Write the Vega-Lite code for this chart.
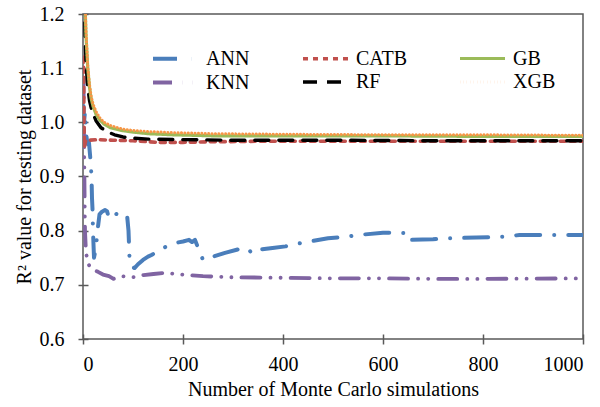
{
  "$schema": "https://vega.github.io/schema/vega-lite/v6.json",
  "autosize": "none",
  "width": 500,
  "height": 325,
  "padding": {"left": 83, "top": 14, "right": 17, "bottom": 68},
  "background": "white",
  "config": {
    "font": "Liberation Serif",
    "view": {"stroke": "#595959", "strokeWidth": 1.5},
    "axis": {
      "labelFont": "Liberation Serif",
      "titleFont": "Liberation Serif",
      "labelFontSize": 20,
      "titleFontSize": 20,
      "labelColor": "black",
      "titleColor": "black",
      "titleFontWeight": "normal",
      "domain": false,
      "tickColor": "#595959",
      "tickWidth": 1.5,
      "tickSize": 10,
      "offset": -5,
      "grid": false
    }
  },
  "data": {
    "values": [
      {"model": "ANN", "n": 1, "r2": 1.03},
      {"model": "ANN", "n": 2, "r2": 1.0},
      {"model": "ANN", "n": 4, "r2": 1.02},
      {"model": "ANN", "n": 6, "r2": 0.98},
      {"model": "ANN", "n": 9, "r2": 0.96},
      {"model": "ANN", "n": 12, "r2": 0.962},
      {"model": "ANN", "n": 15, "r2": 0.93},
      {"model": "ANN", "n": 17, "r2": 0.9},
      {"model": "ANN", "n": 18, "r2": 0.86},
      {"model": "ANN", "n": 19, "r2": 0.84},
      {"model": "ANN", "n": 20, "r2": 0.8},
      {"model": "ANN", "n": 22, "r2": 0.75},
      {"model": "ANN", "n": 26, "r2": 0.77},
      {"model": "ANN", "n": 29, "r2": 0.8},
      {"model": "ANN", "n": 33, "r2": 0.83},
      {"model": "ANN", "n": 38, "r2": 0.835},
      {"model": "ANN", "n": 44, "r2": 0.838},
      {"model": "ANN", "n": 48, "r2": 0.836},
      {"model": "ANN", "n": 52, "r2": 0.823},
      {"model": "ANN", "n": 56, "r2": 0.826},
      {"model": "ANN", "n": 62, "r2": 0.832},
      {"model": "ANN", "n": 70, "r2": 0.83},
      {"model": "ANN", "n": 80, "r2": 0.829},
      {"model": "ANN", "n": 88, "r2": 0.83},
      {"model": "ANN", "n": 91, "r2": 0.8},
      {"model": "ANN", "n": 93, "r2": 0.75},
      {"model": "ANN", "n": 97, "r2": 0.733},
      {"model": "ANN", "n": 103, "r2": 0.731},
      {"model": "ANN", "n": 110, "r2": 0.738},
      {"model": "ANN", "n": 120, "r2": 0.746},
      {"model": "ANN", "n": 130, "r2": 0.752},
      {"model": "ANN", "n": 137, "r2": 0.755},
      {"model": "ANN", "n": 160, "r2": 0.768},
      {"model": "ANN", "n": 183, "r2": 0.777},
      {"model": "ANN", "n": 200, "r2": 0.78},
      {"model": "ANN", "n": 212, "r2": 0.783},
      {"model": "ANN", "n": 218, "r2": 0.779},
      {"model": "ANN", "n": 224, "r2": 0.783},
      {"model": "ANN", "n": 232, "r2": 0.764},
      {"model": "ANN", "n": 240, "r2": 0.746},
      {"model": "ANN", "n": 260, "r2": 0.752},
      {"model": "ANN", "n": 284, "r2": 0.759},
      {"model": "ANN", "n": 312, "r2": 0.766},
      {"model": "ANN", "n": 332, "r2": 0.766},
      {"model": "ANN", "n": 336, "r2": 0.759},
      {"model": "ANN", "n": 342, "r2": 0.764},
      {"model": "ANN", "n": 379, "r2": 0.768},
      {"model": "ANN", "n": 405, "r2": 0.771},
      {"model": "ANN", "n": 435, "r2": 0.777},
      {"model": "ANN", "n": 490, "r2": 0.786},
      {"model": "ANN", "n": 520, "r2": 0.788},
      {"model": "ANN", "n": 550, "r2": 0.792},
      {"model": "ANN", "n": 600, "r2": 0.796},
      {"model": "ANN", "n": 633, "r2": 0.796},
      {"model": "ANN", "n": 655, "r2": 0.795},
      {"model": "ANN", "n": 658, "r2": 0.783},
      {"model": "ANN", "n": 700, "r2": 0.784},
      {"model": "ANN", "n": 730, "r2": 0.786},
      {"model": "ANN", "n": 816, "r2": 0.788},
      {"model": "ANN", "n": 845, "r2": 0.789},
      {"model": "ANN", "n": 873, "r2": 0.792},
      {"model": "ANN", "n": 930, "r2": 0.792},
      {"model": "ANN", "n": 1000, "r2": 0.792},

      {"model": "KNN", "n": 1, "r2": 1.08},
      {"model": "KNN", "n": 2, "r2": 0.98},
      {"model": "KNN", "n": 3, "r2": 0.88},
      {"model": "KNN", "n": 4, "r2": 0.8},
      {"model": "KNN", "n": 6, "r2": 0.76},
      {"model": "KNN", "n": 10, "r2": 0.74},
      {"model": "KNN", "n": 15, "r2": 0.731},
      {"model": "KNN", "n": 23, "r2": 0.727},
      {"model": "KNN", "n": 30, "r2": 0.724},
      {"model": "KNN", "n": 40, "r2": 0.719},
      {"model": "KNN", "n": 52, "r2": 0.716},
      {"model": "KNN", "n": 61, "r2": 0.711},
      {"model": "KNN", "n": 77, "r2": 0.716},
      {"model": "KNN", "n": 103, "r2": 0.714},
      {"model": "KNN", "n": 121, "r2": 0.718},
      {"model": "KNN", "n": 141, "r2": 0.72},
      {"model": "KNN", "n": 161, "r2": 0.722},
      {"model": "KNN", "n": 198, "r2": 0.719},
      {"model": "KNN", "n": 240, "r2": 0.716},
      {"model": "KNN", "n": 294, "r2": 0.714},
      {"model": "KNN", "n": 400, "r2": 0.713},
      {"model": "KNN", "n": 500, "r2": 0.712},
      {"model": "KNN", "n": 600, "r2": 0.712},
      {"model": "KNN", "n": 700, "r2": 0.711},
      {"model": "KNN", "n": 800, "r2": 0.711},
      {"model": "KNN", "n": 1000, "r2": 0.712},

      {"model": "CATB", "n": 1, "r2": 1.12},
      {"model": "CATB", "n": 2, "r2": 1.0},
      {"model": "CATB", "n": 3, "r2": 0.955},
      {"model": "CATB", "n": 5, "r2": 0.965},
      {"model": "CATB", "n": 10, "r2": 0.967},
      {"model": "CATB", "n": 30, "r2": 0.968},
      {"model": "CATB", "n": 60, "r2": 0.967},
      {"model": "CATB", "n": 100, "r2": 0.966},
      {"model": "CATB", "n": 150, "r2": 0.963},
      {"model": "CATB", "n": 200, "r2": 0.963},
      {"model": "CATB", "n": 250, "r2": 0.964},
      {"model": "CATB", "n": 350, "r2": 0.965},
      {"model": "CATB", "n": 500, "r2": 0.965},
      {"model": "CATB", "n": 700, "r2": 0.965},
      {"model": "CATB", "n": 1000, "r2": 0.965},

      {"model": "RF", "n": 1, "r2": 1.45},
      {"model": "RF", "n": 2, "r2": 1.3},
      {"model": "RF", "n": 4, "r2": 1.17},
      {"model": "RF", "n": 6, "r2": 1.11},
      {"model": "RF", "n": 9, "r2": 1.07},
      {"model": "RF", "n": 13, "r2": 1.04},
      {"model": "RF", "n": 16, "r2": 1.028},
      {"model": "RF", "n": 20, "r2": 1.017},
      {"model": "RF", "n": 26, "r2": 1.003},
      {"model": "RF", "n": 36, "r2": 0.99},
      {"model": "RF", "n": 50, "r2": 0.982},
      {"model": "RF", "n": 63, "r2": 0.977},
      {"model": "RF", "n": 80, "r2": 0.973},
      {"model": "RF", "n": 97, "r2": 0.971},
      {"model": "RF", "n": 130, "r2": 0.969},
      {"model": "RF", "n": 200, "r2": 0.968},
      {"model": "RF", "n": 300, "r2": 0.967},
      {"model": "RF", "n": 500, "r2": 0.967},
      {"model": "RF", "n": 700, "r2": 0.966},
      {"model": "RF", "n": 1000, "r2": 0.966},

      {"model": "GB", "n": 1, "r2": 1.4},
      {"model": "GB", "n": 3, "r2": 1.25},
      {"model": "GB", "n": 6, "r2": 1.16},
      {"model": "GB", "n": 9.5, "r2": 1.1},
      {"model": "GB", "n": 13, "r2": 1.065},
      {"model": "GB", "n": 16, "r2": 1.045},
      {"model": "GB", "n": 20, "r2": 1.03},
      {"model": "GB", "n": 26, "r2": 1.015},
      {"model": "GB", "n": 33, "r2": 1.005},
      {"model": "GB", "n": 42, "r2": 0.997},
      {"model": "GB", "n": 55, "r2": 0.99},
      {"model": "GB", "n": 77, "r2": 0.985},
      {"model": "GB", "n": 100, "r2": 0.982},
      {"model": "GB", "n": 131, "r2": 0.979},
      {"model": "GB", "n": 180, "r2": 0.977},
      {"model": "GB", "n": 264, "r2": 0.975},
      {"model": "GB", "n": 400, "r2": 0.975},
      {"model": "GB", "n": 600, "r2": 0.975},
      {"model": "GB", "n": 800, "r2": 0.974},
      {"model": "GB", "n": 1000, "r2": 0.974},

      {"model": "XGB", "n": 1, "r2": 1.45},
      {"model": "XGB", "n": 3, "r2": 1.27},
      {"model": "XGB", "n": 6, "r2": 1.17},
      {"model": "XGB", "n": 9.5, "r2": 1.105},
      {"model": "XGB", "n": 13, "r2": 1.07},
      {"model": "XGB", "n": 16, "r2": 1.05},
      {"model": "XGB", "n": 20, "r2": 1.034},
      {"model": "XGB", "n": 26, "r2": 1.02},
      {"model": "XGB", "n": 33, "r2": 1.009},
      {"model": "XGB", "n": 42, "r2": 1.0},
      {"model": "XGB", "n": 55, "r2": 0.994},
      {"model": "XGB", "n": 77, "r2": 0.988},
      {"model": "XGB", "n": 100, "r2": 0.985},
      {"model": "XGB", "n": 131, "r2": 0.983},
      {"model": "XGB", "n": 180, "r2": 0.981},
      {"model": "XGB", "n": 264, "r2": 0.979},
      {"model": "XGB", "n": 400, "r2": 0.978},
      {"model": "XGB", "n": 600, "r2": 0.977},
      {"model": "XGB", "n": 800, "r2": 0.977},
      {"model": "XGB", "n": 1000, "r2": 0.976}
    ]
  },
  "mark": {"type": "line", "clip": true, "strokeCap": "round", "strokeJoin": "round"},
  "encoding": {
    "x": {
      "field": "n",
      "type": "quantitative",
      "title": "Number of Monte Carlo simulations",
      "scale": {"domain": [0, 1000], "nice": false},
      "axis": {"values": [0, 200, 400, 600, 800, 1000], "format": "d", "labelPadding": 10, "titlePadding": 5}
    },
    "y": {
      "field": "r2",
      "type": "quantitative",
      "title": "R² value for testing dataset",
      "scale": {"domain": [0.6, 1.2], "nice": false, "zero": false},
      "axis": {"values": [0.6, 0.7, 0.8, 0.9, 1.0, 1.1, 1.2], "format": ".1f", "labelPadding": 14, "titlePadding": 5}
    },
    "color": {
      "field": "model",
      "type": "nominal",
      "title": null,
      "scale": {
        "domain": ["ANN", "KNN", "CATB", "RF", "GB", "XGB"],
        "range": ["#4a7ebb", "#8064a2", "#c0504d", "#000000", "#9bbb59", "#f79646"]
      },
      "legend": {
        "orient": "none",
        "legendX": 79,
        "legendY": 31,
        "columns": 3,
        "columnPadding": 45,
        "rowPadding": -10,
        "symbolType": "M-2,0H2",
        "symbolSize": 506,
        "labelFont": "Liberation Serif",
        "labelFontSize": 20,
        "labelColor": "black",
        "labelOffset": 17,
        "padding": 0
      }
    },
    "strokeDash": {
      "field": "model",
      "type": "nominal",
      "title": null,
      "scale": {
        "domain": ["ANN", "KNN", "CATB", "RF", "GB", "XGB"],
        "range": [[24, 14, 0.1, 14], [19, 10, 0.1, 10, 0.1, 10], [5, 5], [14, 10], [1, 0], [0.1, 3.3]]
      }
    },
    "strokeWidth": {
      "field": "model",
      "type": "nominal",
      "title": null,
      "scale": {
        "domain": ["ANN", "KNN", "CATB", "RF", "GB", "XGB"],
        "range": [4, 3, 2.5, 2.5, 2.5, 2.5]
      }
    }
  }
}
